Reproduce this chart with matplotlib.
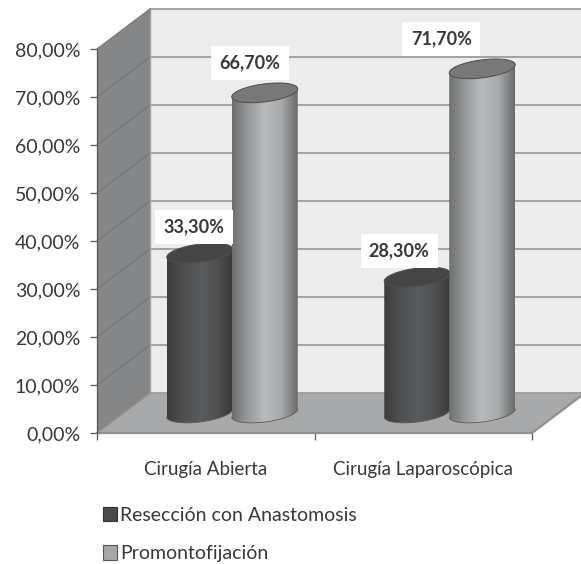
import numpy as np
import matplotlib
matplotlib.use('Agg')
import matplotlib.pyplot as plt
from matplotlib.colors import LinearSegmentedColormap
from matplotlib.patches import Polygon, Patch

plt.rcParams['font.family'] = ['Lato', 'DejaVu Sans']

# Data
categories = ['Cirugía Abierta', 'Cirugía Laparoscópica']
series_names = ['Resección con Anastomosis', 'Promontofijación']
reseccion = [33.3, 28.3]
promonto = [66.7, 71.7]
yticks = [0, 10, 20, 30, 40, 50, 60, 70, 80]

W, H = 581, 564
fig = plt.figure(figsize=(W/100, H/100), dpi=100)
ax = fig.add_axes([97/W, (H-433)/H, 435/W, 384/H])
ax.patch.set_visible(False)

# one pixel in data units
px = 2/435
py = 80/384
DX = 53*px
DY = 40*py
XEND = 2 + DX

# walls and floor
ax.add_patch(Polygon([(DX, DY), (XEND, DY), (XEND, 80+DY), (DX, 80+DY)], fc='#ececec', ec='none', clip_on=False, zorder=1))
ax.add_patch(Polygon([(0, 0), (DX, DY), (DX, 80+DY), (0, 80)], fc='#858687', ec='none', clip_on=False, zorder=1))
ax.add_patch(Polygon([(0, 0), (DX, DY), (XEND, DY), (2, 0)], fc='#a8a9ab', ec='none', clip_on=False, zorder=1))

for t in yticks:
    ax.plot([DX, XEND], [t+DY, t+DY], color='#9c9c9c', lw=1.3, clip_on=False, zorder=2)
    if t > 0:
        ax.plot([0, DX], [t, t+DY], color='#757677', lw=0.9, clip_on=False, zorder=2)
ax.plot([DX, DX], [DY, 80+DY], color='#a2a2a2', lw=1.0, clip_on=False, zorder=2)
ax.plot([0, 2, XEND], [0, 0, DY], color='#8f8f8f', lw=1.6, clip_on=False, zorder=2)
ax.plot([0, DX], [0, DY], color='#8f8f8f', lw=1.0, clip_on=False, zorder=2)

dark_cmap = LinearSegmentedColormap.from_list('d', ['#3c3c3c', '#4e4f50', '#5a5b5c', '#505152', '#3a3a3a'])
light_cmap = LinearSegmentedColormap.from_list('l', ['#6e6f70', '#9a9b9c', '#b9babb', '#a8a9aa', '#6a6b6c'])

HALF = 0.1494
RAD = 33*px
B = 9*py
TILT = 4*py


def cylinder(xc, val, cmap, topc, z):
    base = DY/2
    t = np.linspace(0, np.pi, 60)
    # near side of the ellipse, left to right
    xs = xc - RAD*np.cos(t)
    near = -B*np.sin(t) - TILT*np.cos(t)
    body = list(zip(xs, base+val+near)) + list(zip(xs[::-1], base+near[::-1]))
    poly = Polygon(body, fc='none', ec='none', clip_on=False, zorder=z)
    ax.add_patch(poly)
    grad = np.linspace(0, 1, 128).reshape(1, -1)
    im = ax.imshow(grad, cmap=cmap, aspect='auto', zorder=z, extent=[xc-RAD, xc+RAD, base-B-TILT-1, base+val+B+TILT])
    im.set_clip_path(poly)
    ax.plot(xs, base+near, color='#5a5a5a', lw=0.6, zorder=z, clip_on=False)
    t2 = np.linspace(0, 2*np.pi, 120)
    ax.add_patch(Polygon(list(zip(xc + RAD*np.cos(t2), base+val + B*np.sin(t2) + TILT*np.cos(t2))),
                         fc=topc, ec='#4a4a4a', lw=0.7, clip_on=False, zorder=z+0.1))


centers = [0.5, 1.5]
# data label offsets from the cylinder top, in pixels
off_dark = [(-6, 26), (-18, 26)]
off_light = [(-15, 30), (-41, 30)]
lab_style = dict(ha='center', va='center', fontsize=13, fontweight='bold', color='#383838',
                 textcoords='offset pixels', annotation_clip=False, zorder=8,
                 bbox=dict(fc='white', ec='none', pad=6))
for i, c in enumerate(centers):
    xd = c + DX/2 - HALF
    xl = c + DX/2 + HALF
    cylinder(xd, reseccion[i], dark_cmap, '#444546', 4+i)
    cylinder(xl, promonto[i], light_cmap, '#77787a', 4.5+i)
    ax.annotate(('%.2f%%' % reseccion[i]).replace('.', ','), xy=(xd, reseccion[i]+DY/2),
                xytext=off_dark[i], **lab_style)
    ax.annotate(('%.2f%%' % promonto[i]).replace('.', ','), xy=(xl, promonto[i]+DY/2),
                xytext=off_light[i], **lab_style)

ax.set_xlim(0, 2)
ax.set_ylim(0, 80)
for s in ax.spines.values():
    s.set_visible(False)
ax.spines['left'].set_visible(True)
ax.spines['left'].set_color('#555555')
ax.spines['left'].set_linewidth(0.9)

ax.set_yticks(yticks)
ax.set_yticklabels([('%.2f%%' % t).replace('.', ',') for t in yticks], fontsize=14, color='#383838')
ax.set_xticks([0, 1, 2])
ax.set_xticklabels([])
ax.set_xticks(centers, minor=True)
ax.set_xticklabels(categories, minor=True, fontsize=13.5, color='#383838')
ax.tick_params(axis='x', which='major', length=5, color='#555555', width=0.9)
ax.tick_params(axis='x', which='minor', length=0, pad=20)
ax.tick_params(axis='y', length=5, color='#555555', width=0.9, pad=7)

handles = [Patch(fc='#4a4b4c', ec='#333333', lw=0.8, label=series_names[0]),
           Patch(fc='#a6a7a8', ec='#555555', lw=0.8, label=series_names[1])]
fig.legend(handles=handles, loc='upper left', bbox_to_anchor=(97/W, 1-501/H), frameon=False,
           fontsize=14, labelcolor='#383838', handlelength=0.75, handleheight=0.75,
           handletextpad=0.15, labelspacing=1.1, borderpad=0.3, borderaxespad=0)

fig.savefig('out.png', dpi=100)
